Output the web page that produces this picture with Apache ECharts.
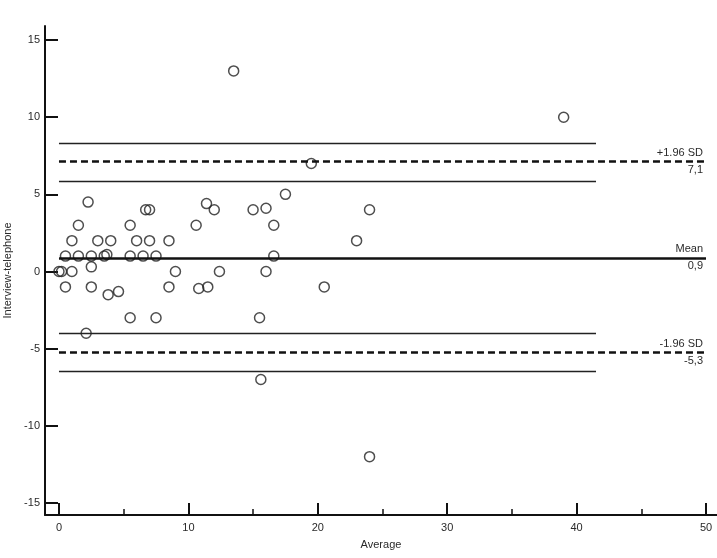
<!DOCTYPE html>
<html>
<head>
<meta charset="utf-8">
<script src="https://cdn.jsdelivr.net/npm/echarts@6/dist/echarts.min.js"></script>
<style>
    html, body { margin: 0; padding: 0; background: #fff; }
    #echarts-main { width: 717px; height: 558px; }
</style>
</head>
<body>
<div id="echarts-main"></div>
<script>
    // averages (x) and differences (y)
    const averageValues = [0, 0.2, 0.5, 0.5, 1, 1, 1.5, 1.5, 2.1, 2.25, 2.5, 2.5, 2.5, 3, 3.5, 3.7, 3.8, 4, 4.6,
        5.5, 5.5, 5.5, 6, 6.5, 6.7, 7, 7, 7.5, 7.5, 8.5, 8.5, 9, 10.6, 10.8, 11.4, 11.5, 12, 12.4, 13.5,
        15, 15.5, 15.6, 16, 16, 16.6, 16.6, 17.5, 19.5, 20.5, 23, 24, 24, 39]
    const differenceValues = [0, 0, 1, -1, 2, 0, 3, 1, -4, 4.5, 1, 0.3, -1, 2, 1, 1.1, -1.5, 2, -1.3,
        3, 1, -3, 2, 1, 4, 4, 2, 1, -3, 2, -1, 0, 3, -1.1, 4.4, -1, 4, 0, 13,
        4, -3, -7, 4.1, 0, 3, 1, 5, 7, -1, 2, 4, -12, 10]

    const xTickValues = [0, 10, 20, 30, 40, 50]
    const xMinorTickValues = [5, 15, 25, 35, 45]
    const yTickValues = [-15, -10, -5, 0, 5, 10, 15]

    // limits of agreement: +1.96 SD, mean, -1.96 SD
    const limitValues = [7.14, 0.88, -5.25]
    const limitNames = ['+1.96 SD', 'Mean', '-1.96 SD']
    const limitTexts = ['7,1', '0,9', '-5,3']
    const limitEnd = 50
    // confidence interval lines around the limits
    const ciValues = [8.3, 5.85, -4.02, -6.47]
    const ciEnd = 41.5

    const labelFont = { fontFamily: 'Liberation Sans', fontSize: 11, color: '#2a2a2a' }

    let chartDom = document.getElementById('echarts-main')
    let myChart = echarts.init(chartDom)

    const points = averageValues.map((x, i) => [x, differenceValues[i]])

    const markData = []
    limitValues.forEach((v, i) => {
        const isMean = limitNames[i] === 'Mean'
        const style = { color: '#111', width: 2.6, type: isMean ? 'solid' : [7, 4] }
        markData.push([
            { coord: [0, v], lineStyle: style, label: { show: true, position: 'insideEndTop', formatter: limitNames[i], ...labelFont, distance: 3 } },
            { coord: [limitEnd, v] }
        ])
        markData.push([
            { coord: [0, v], lineStyle: { color: 'rgba(0,0,0,0)', width: 0 }, label: { show: true, position: 'insideEndBottom', formatter: limitTexts[i], ...labelFont, distance: 3 } },
            { coord: [limitEnd, v] }
        ])
    })
    ciValues.forEach(v => {
        markData.push([
            { coord: [0, v], lineStyle: { color: '#222', width: 1.3, type: 'solid' }, label: { show: false } },
            { coord: [ciEnd, v] }
        ])
    })

    const option = {
        animation: false,
        grid: { left: 45, right: 0, top: 26, bottom: 43, outerBoundsMode: 'none' },
        xAxis: [
            {
                type: 'value',
                min: -1.08,
                max: 50.85,
                position: 'bottom',
                name: 'Average',
                nameLocation: 'middle',
                nameGap: 24,
                nameTextStyle: labelFont,
                axisLine: { onZero: false, lineStyle: { color: '#111', width: 2 } },
                axisTick: { show: true, inside: true, length: 12, customValues: xTickValues, lineStyle: { color: '#111', width: 2 } },
                axisLabel: { customValues: xTickValues, margin: 7, ...labelFont },
                splitLine: { show: false }
            },
            {
                type: 'value',
                min: -1.08,
                max: 50.85,
                position: 'bottom',
                axisLine: { show: false, onZero: false },
                axisTick: { show: true, inside: true, length: 6, customValues: xMinorTickValues, lineStyle: { color: '#111', width: 1.5 } },
                axisLabel: { show: false },
                splitLine: { show: false }
            }
        ],
        yAxis: {
            type: 'value',
            min: -15.78,
            max: 15.91,
            name: 'Interview-telephone',
            nameLocation: 'middle',
            nameGap: 29,
            nameTextStyle: labelFont,
            axisLine: { onZero: false, lineStyle: { color: '#111', width: 2 } },
            axisTick: { show: true, inside: true, length: 13, customValues: yTickValues, lineStyle: { color: '#111', width: 2 } },
            axisLabel: { customValues: yTickValues, margin: 5, ...labelFont },
            splitLine: { show: false }
        },
        series: [
            {
                type: 'scatter',
                data: points,
                symbol: 'circle',
                symbolSize: 10,
                itemStyle: { color: 'rgba(0,0,0,0)', borderColor: '#222', borderWidth: 1.5 },
                markLine: {
                    silent: true,
                    symbol: ['none', 'none'],
                    data: markData
                }
            }
        ]
    }

    myChart.setOption(option)
</script>
</body>
</html>
